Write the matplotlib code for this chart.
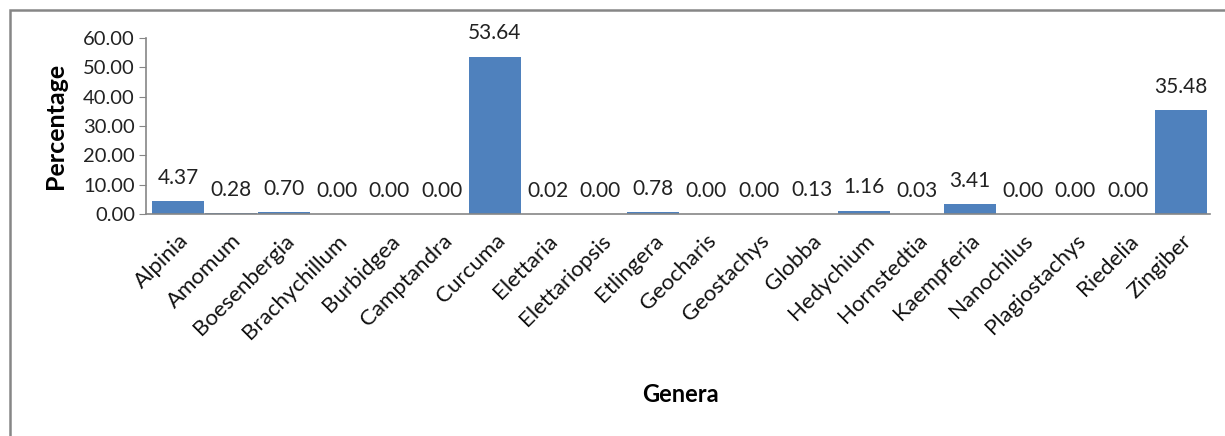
import matplotlib.pyplot as plt
from matplotlib.patches import Rectangle

genera = ["Alpinia", "Amomum", "Boesenbergia", "Brachychillum", "Burbidgea",
          "Camptandra", "Curcuma", "Elettaria", "Elettariopsis", "Etlingera",
          "Geocharis", "Geostachys", "Globba", "Hedychium", "Hornstedtia",
          "Kaempferia", "Nanochilus", "Plagiostachys", "Riedelia", "Zingiber"]
percentage = [4.37, 0.28, 0.70, 0.00, 0.00,
              0.00, 53.64, 0.02, 0.00, 0.78,
              0.00, 0.00, 0.13, 1.16, 0.03,
              3.41, 0.00, 0.00, 0.00, 35.48]
yticks = [0, 10, 20, 30, 40, 50, 60]

plt.rcParams['font.family'] = ['Lato', 'DejaVu Sans']

fig = plt.figure(figsize=(12.25, 4.36), dpi=100)
ax = fig.add_axes([146/1225, 1 - 214/436, 1064/1225, 176/436])

x = range(len(genera))
bars = ax.bar(x, percentage, width=0.98, color="#4F81BD")

# data labels above each bar
for xi, v in zip(x, percentage):
    ax.annotate("%.2f" % v, (xi, v), xytext=(0, 9.5), textcoords="offset points",
                ha="center", va="bottom", fontsize=15, color="#222222")

ax.set_xlim(-0.61, 19.55)
ax.set_ylim(0, 60)
ax.set_yticks(yticks)
ax.set_yticklabels(["%.2f" % t for t in yticks], fontsize=14.5, color="#222222")
ax.set_xticks(list(x))
ax.set_xticklabels(genera, rotation=45, ha="right", rotation_mode="anchor",
                   fontsize=16, color="#111111")
ax.tick_params(axis="x", length=0, pad=12)
ax.tick_params(axis="y", length=5, color="#868686", pad=3)

for s in ["top", "right"]:
    ax.spines[s].set_visible(False)
for s in ["left", "bottom"]:
    ax.spines[s].set_color("#868686")
    ax.spines[s].set_linewidth(1.2)

ax.set_ylabel("Percentage", fontsize=18, fontweight="bold")
ax.yaxis.set_label_coords(-0.074, 0.5)
fig.text(680/1225, 1 - 395/436, "Genera", fontsize=17, fontweight="bold",
         ha="center", va="center")

# outer chart frame (cut off on right and bottom)
fig.patches.append(Rectangle((10/1225, -0.1), 1.2, 1 - 10/436 + 0.1,
                             transform=fig.transFigure, fill=False,
                             edgecolor="#868686", linewidth=1.8))

fig.savefig("out.png", dpi=100)
